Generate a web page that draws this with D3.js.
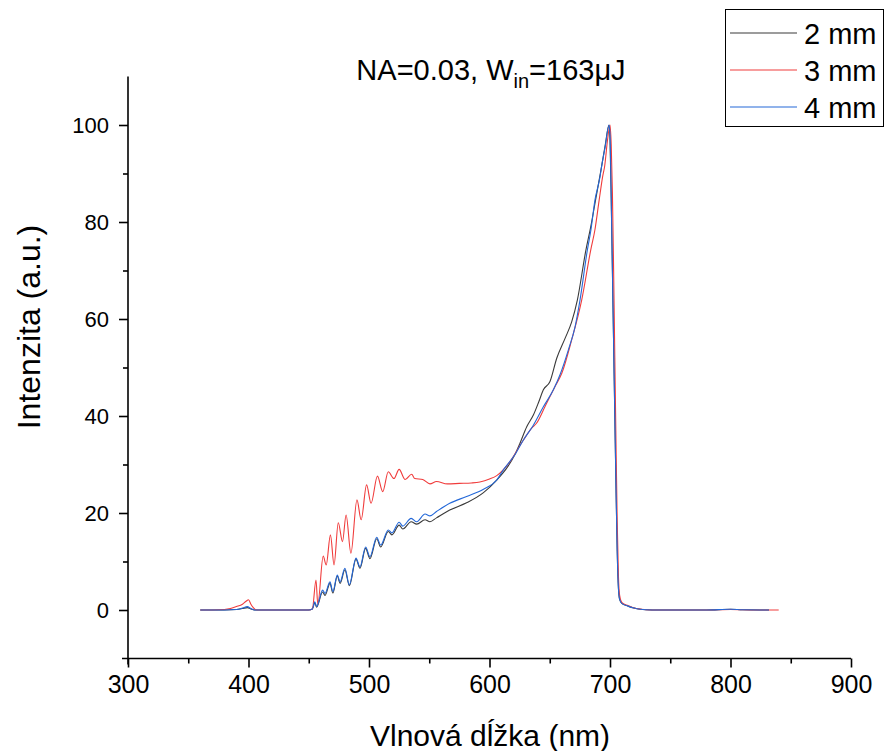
<!DOCTYPE html>
<html>
<head>
<meta charset="utf-8">
<script src="https://cdn.jsdelivr.net/npm/d3@7"></script>
<style>
  body { margin: 0; background: #fff; }
  svg text { font-family: "Liberation Sans", Arial, sans-serif; fill: #000; }
</style>
</head>
<body>
<div id="chart"></div>
<script>
// Spectrum vs wavelength for three lengths

const seriesNames = ["2 mm", "3 mm", "4 mm"];
const seriesColors = ["#3a3a3a", "#f03c3c", "#2468d8"];

// 2 mm
const wl2 = [360, 380, 390, 395, 399, 402, 405, 450, 453, 455, 456.5, 461.5, 463.5, 467.6, 470, 473.7, 476, 480, 483.7,
  489.2, 492.5, 497.2, 500.8, 506.4, 509.7, 516, 519, 525, 528, 535, 539.6, 546.5, 550.6, 556, 567, 581, 595, 606,
  615, 621, 625.3, 630.9, 636.4, 641, 644.7, 650.2, 655.8, 662.7, 668.2, 672.9, 680, 684, 688, 693, 696, 699.2,
  700, 701, 702, 703, 704, 705, 706, 707, 708, 710, 715, 720, 725, 730, 740, 780, 800, 810, 832];
const int2 = [0, 0, 0.1, 0.3, 0.5, 0.2, 0, 0, 0.2, 1.5, 0.6, 3.7, 3.0, 5.5, 3.5, 7.0, 5.5, 8.3, 5.0,
  10.5, 8.6, 12.7, 10.6, 14.7, 13.0, 16.2, 15.5, 17.5, 16.7, 18.2, 17.7, 18.6, 18.2, 19.0, 20.6, 22.1, 24.2, 26.8,
  29.5, 32, 34.4, 37.8, 40.2, 43, 45.4, 47.1, 51.9, 56, 59.4, 63.9, 74.2, 79, 84.5, 91.4, 95.8, 100,
  97, 85, 70, 55, 40, 25, 12, 4.5, 2.2, 1.3, 0.8, 0.4, 0.15, 0.05, 0, 0, 0.15, 0.05, 0];

// 3 mm
const wl3 = [360, 370, 380, 385, 390, 395, 398, 400, 402, 404, 406, 410, 450, 453, 456, 457.5, 462, 464.5, 468, 471,
  474.5, 478, 481, 485, 490, 493.5, 498, 501.7, 507, 511.4, 516, 520.7, 525, 530, 535.4, 538, 544.6, 550.6, 556,
  565, 575, 585, 592, 600, 606, 617, 628, 635, 639, 646, 654.4, 660, 668.2, 676.5, 684, 687.5, 691, 694, 695.5,
  698, 700, 701, 702, 703, 704, 705, 706, 707, 708, 710, 715, 720, 725, 730, 740, 780, 800, 820, 840];
const int3 = [0, 0, 0.1, 0.3, 0.7, 1.2, 1.8, 2.1, 1.2, 0.5, 0.05, 0, 0, 0.2, 6.2, 1.2, 11.1, 9.3, 15.5, 9.3,
  18, 14.1, 19.6, 11.7, 22.7, 18.6, 25.8, 22, 27.6, 24.4, 28.5, 27.1, 29, 26.9, 28, 27.1, 26.9, 26, 26.5,
  26, 26.1, 26.2, 26.4, 27.0, 27.7, 30.6, 35, 37.5, 38.5, 41.9, 46.1, 48.8, 55.7, 63.9, 74.2, 78.4, 84.5, 89.5, 91.4,
  97, 100, 96, 86, 70, 52, 34, 18, 7, 3, 1.5, 0.9, 0.4, 0.2, 0.05, 0, 0, 0.1, 0, 0];

// 4 mm
const wl4 = [360, 380, 390, 395, 399, 402, 405, 450, 453, 455, 456.5, 461.5, 463.5, 467.6, 470, 473.7, 476, 480, 483.7,
  489.2, 492.5, 497.2, 500.8, 506.4, 509.7, 516, 519, 525, 528, 535, 539.6, 546.5, 550.6, 556, 567, 581, 595, 606,
  611.5, 621, 628, 636.4, 644.7, 653, 658.5, 665.4, 671, 675.1, 681.2, 684.2, 687.5, 691.7, 693, 696, 699.2,
  700, 701, 702, 703, 704, 705, 706, 707, 708, 710, 715, 720, 725, 730, 740, 780, 800, 810, 832];
const int4 = [0, 0, 0.1, 0.4, 0.7, 0.3, 0, 0, 0.2, 1.7, 0.7, 4.1, 3.4, 5.8, 3.8, 7.2, 5.8, 8.6, 5.2,
  10.7, 8.9, 13, 11, 15, 13.4, 16.5, 15.9, 18.1, 17.3, 18.9, 18.2, 19.8, 19.4, 20.3, 22, 23.4, 24.9, 26.8,
  28.9, 32, 35, 38.1, 41.9, 45.4, 48.5, 53.6, 58.4, 63.9, 74.2, 78.4, 84.5, 89.3, 91.4, 95.5, 100,
  98, 85, 70, 55, 40, 25, 12, 4.5, 2.2, 1.3, 0.8, 0.4, 0.15, 0.05, 0, 0, 0.15, 0.05, 0];

const xTicks = [300, 400, 500, 600, 700, 800, 900];
const yTicks = [0, 20, 40, 60, 80, 100];

const series = [
  { name: seriesNames[0], color: seriesColors[0], pts: wl2.map((w, i) => [w, int2[i]]) },
  { name: seriesNames[1], color: seriesColors[1], pts: wl3.map((w, i) => [w, int3[i]]) },
  { name: seriesNames[2], color: seriesColors[2], pts: wl4.map((w, i) => [w, int4[i]]) }
];

const W = 885, H = 751;
const svg = d3.select("#chart").append("svg")
  .attr("width", W)
  .attr("height", H);

const x = d3.scaleLinear().domain([300, 900]).range([128, 851]);
const y = d3.scaleLinear().domain([-10, 110]).range([658.5, 76.5]);

// curves
const line = d3.line()
  .x(d => x(d[0]))
  .y(d => y(d[1]))
  .curve(d3.curveMonotoneX);

svg.append("g")
  .selectAll("path")
  .data(series)
  .join("path")
  .attr("d", d => line(d.pts))
  .attr("fill", "none")
  .attr("stroke", d => d.color)
  .attr("stroke-width", 1.1);

// x axis with minor ticks
const xAxis = svg.append("g")
  .attr("transform", `translate(0,${y(-10)})`)
  .call(d3.axisBottom(x).tickValues(xTicks).tickSize(9).tickPadding(8).tickFormat(d3.format("d")));
svg.append("g")
  .attr("transform", `translate(0,${y(-10)})`)
  .call(d3.axisBottom(x).tickValues(d3.range(350, 900, 100)).tickSize(5).tickFormat(""))
  .select(".domain").remove();

// y axis with minor ticks
const yAxis = svg.append("g")
  .attr("transform", `translate(${x(300)},0)`)
  .call(d3.axisLeft(y).tickValues(yTicks).tickSize(9).tickPadding(10));
svg.append("g")
  .attr("transform", `translate(${x(300)},0)`)
  .call(d3.axisLeft(y).tickValues(d3.range(10, 110, 20)).tickSize(5).tickFormat(""))
  .select(".domain").remove();

xAxis.select(".domain").attr("d", `M${x(300) - 6},0H${x(900)}`);
yAxis.select(".domain").attr("d", `M0,${y(110)}V${y(-10) + 6}`);

svg.selectAll(".tick line, .domain").attr("stroke", "#000").attr("stroke-width", 1.6);
xAxis.selectAll(".tick text").style("font-size", "25px").attr("fill", "#000");
yAxis.selectAll(".tick text").style("font-size", "22px").attr("fill", "#000");

// axis titles
svg.append("text")
  .attr("x", 490)
  .attr("y", 746)
  .attr("text-anchor", "middle")
  .style("font-size", "30px")
  .text("Vlnová dĺžka (nm)");

svg.append("text")
  .attr("transform", "rotate(-90)")
  .attr("x", -327)
  .attr("y", 40)
  .attr("text-anchor", "middle")
  .style("font-size", "32px")
  .text("Intenzita (a.u.)");

// title with subscript
const title = svg.append("text")
  .attr("x", 491)
  .attr("y", 80)
  .attr("text-anchor", "middle")
  .style("font-size", "29px");
title.append("tspan").text("NA=0.03, W");
title.append("tspan").attr("dy", 8).style("font-size", "20px").text("in");
title.append("tspan").attr("dy", -8).text("=163μJ");

// legend
const legend = svg.append("g");
legend.append("rect")
  .attr("x", 725.5).attr("y", 9.5)
  .attr("width", 158).attr("height", 117)
  .attr("fill", "#fff").attr("stroke", "#000").attr("stroke-width", 1);

series.forEach((s, i) => {
  const ly = 33 + i * 37;
  legend.append("line")
    .attr("x1", 730).attr("x2", 797)
    .attr("y1", ly).attr("y2", ly)
    .attr("stroke", s.color).attr("stroke-width", 1.1);
  legend.append("text")
    .attr("x", 804).attr("y", ly + 11)
    .style("font-size", "29px")
    .text(s.name);
});
</script>
</body>
</html>
